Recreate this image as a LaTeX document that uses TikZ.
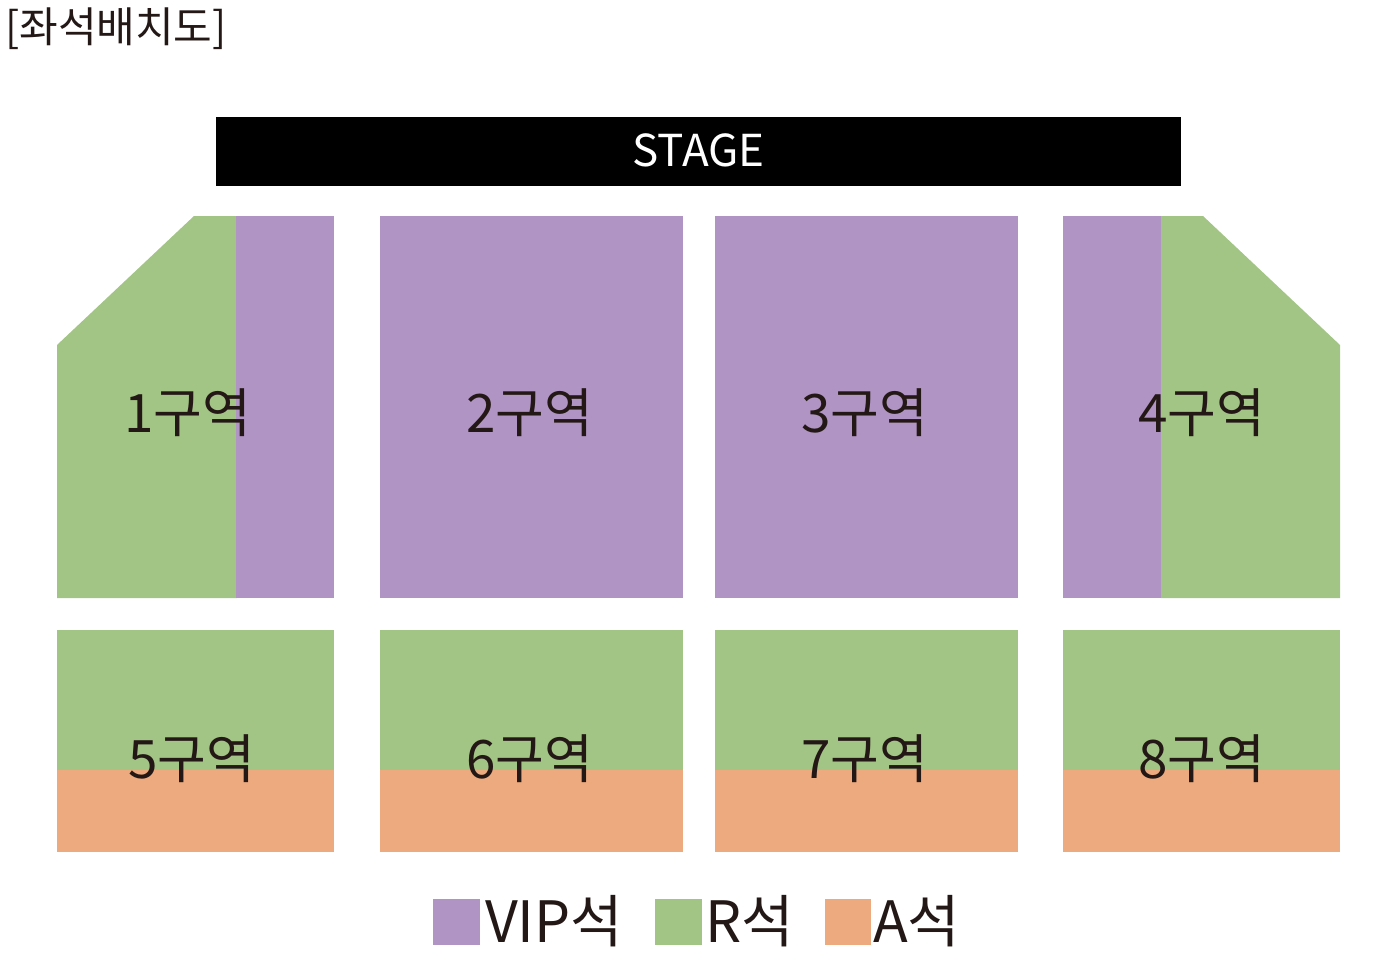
\documentclass[tikz,border=0pt]{standalone}
\usepackage{fontspec}
\setmainfont{Noto Sans CJK KR}
\definecolor{vipc}{RGB}{176,148,196}
\definecolor{rc}{RGB}{162,196,133}
\definecolor{ac}{RGB}{236,170,126}
\definecolor{ink}{RGB}{35,24,21}

\begin{document}
\begin{tikzpicture}[x=1pt, y=-1pt,
    zone/.style={text=ink, font=\fontsize{53}{53}\selectfont, inner sep=0pt},
    legtext/.style={text=ink, font=\fontsize{57}{57}\selectfont, inner sep=0pt, anchor=west}]
    \useasboundingbox (0, 0) rectangle (1390, 964);

    \node[anchor=west, inner sep=0pt, text=ink, font=\fontsize{42}{42}\selectfont]
        (title) at (5, 29) {[좌석배치도]};

    % stage
    \fill[black] (216, 117) rectangle (1181, 186);
    \node[text=white, inner sep=0pt, font=\fontsize{44}{44}\selectfont]
        (stage) at (698.5, 150) {STAGE};

    % upper blocks
    \fill[rc]   (57, 345) -- (194, 216) -- (237, 216) -- (237, 598) -- (57, 598) -- cycle;
    \fill[vipc] (236, 216) rectangle (334, 598);
    \fill[vipc] (380, 216) rectangle (683, 598);
    \fill[vipc] (715, 216) rectangle (1018, 598);
    \fill[vipc] (1063, 216) rectangle (1162, 598);
    \fill[rc]   (1161, 216) -- (1203, 216) -- (1340, 345) -- (1340, 598) -- (1161, 598) -- cycle;

    % lower blocks
    \foreach \xa/\xb in {57/334, 380/683, 715/1018, 1063/1340} {
      \fill[rc] (\xa, 630) rectangle (\xb, 771);
      \fill[ac] (\xa, 770) rectangle (\xb, 852);
    }

    \node[zone] (z1) at (188, 413) {1구역};
    \node[zone] (z2) at (530, 413) {2구역};
    \node[zone] (z3) at (865, 413) {3구역};
    \node[zone] (z4) at (1202, 413) {4구역};
    \node[zone] (z5) at (192, 759) {5구역};
    \node[zone] (z6) at (530, 759) {6구역};
    \node[zone] (z7) at (865, 759) {7구역};
    \node[zone] (z8) at (1202, 759) {8구역};

    % legend
    \fill[vipc] (433, 899) rectangle (480, 945);
    \fill[rc]   (655, 899) rectangle (702, 945);
    \fill[ac]   (825, 899) rectangle (871, 945);
    \node[legtext] (lvip) at (485, 921) {VIP석};
    \node[legtext] (lr)   at (705, 921) {R석};
    \node[legtext] (la)   at (873, 921) {A석};
\end{tikzpicture}
\end{document}
